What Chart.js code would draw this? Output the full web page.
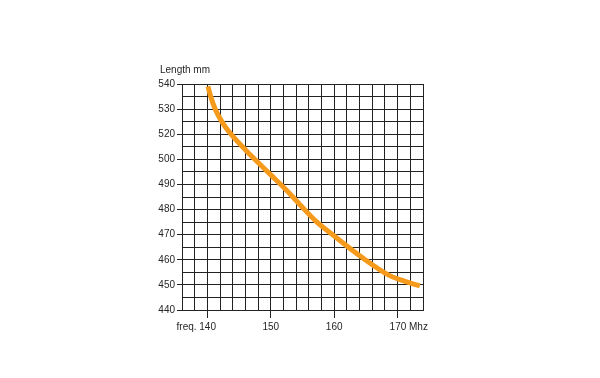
<!DOCTYPE html>
<html>
<head>
<meta charset="utf-8">
<script src="https://cdn.jsdelivr.net/npm/chart.js@4/dist/chart.umd.min.js"></script>
<style>
  html, body { margin: 0; padding: 0; background: #fff; }
  #wrap { width: 600px; height: 378px; position: relative; }
</style>
</head>
<body>
<div id="wrap"><canvas id="c" width="600" height="378"></canvas></div>
<script>
// Data
const freq   = [140.1, 140.5, 141.3, 142.5, 144.1, 146.8, 150.0, 152.4, 154.8, 157.1, 160.0, 164.3, 168.6, 170.6, 173.5];
const length = [529.1, 525.2, 519.6, 514.1, 508.9, 501.7, 493.8, 487.9, 481.4, 475.4, 469.5, 461.1, 453.9, 451.9, 449.6];
const yTickLabels = ["540", "530", "520", "500", "490", "480", "470", "460", "450", "440"];
const xTickValues = [140, 150, 160, 170];
const xTickLabels = ["freq. 140", "150", "160", "170 Mhz"];
const xNumbers    = ["140", "150", "160", "170"];
const axisTitle = "Length mm";

const FONT = "'Liberation Sans', Arial, sans-serif";
const FSIZE = 10;
const TEXT = '#262626';
const GRID = '#222';

const mctx = document.createElement('canvas').getContext('2d');
mctx.font = FSIZE + 'px ' + FONT;
function padded(label, num) {
  // keep the number centred on its tick by balancing the affix with spaces
  const i = label.indexOf(num);
  const pre = label.slice(0, i), post = label.slice(i + num.length);
  const sw = mctx.measureText(' ').width;
  const diff = mctx.measureText(pre).width - mctx.measureText(post).width;
  const n = Math.round(Math.abs(diff) / sw);
  return diff > 0 ? label + ' '.repeat(n) : ' '.repeat(n) + label;
}

const titlePlugin = {
  id: 'axisTitle',
  afterDraw(chart) {
    const ctx = chart.ctx;
    ctx.save();
    ctx.font = FSIZE + 'px ' + FONT;
    ctx.fillStyle = TEXT;
    ctx.textAlign = 'left';
    ctx.textBaseline = 'middle';
    ctx.fillText(axisTitle, 160, 70);
    ctx.restore();
  }
};

new Chart(document.getElementById('c'), {
  type: 'line',
  data: {
    datasets: [{
      data: freq.map((f, i) => ({ x: f, y: length[i] })),
      borderColor: '#F59A1B',
      borderWidth: 5,
      borderCapStyle: 'butt',
      cubicInterpolationMode: 'monotone',
      pointRadius: 0,
      fill: false
    }]
  },
  options: {
    responsive: false,
    animation: false,
    devicePixelRatio: 1,
    layout: { padding: { top: 84, right: 177, left: 0, bottom: 0 } },
    plugins: { legend: { display: false }, tooltip: { enabled: false } },
    scales: {
      x: {
        type: 'linear',
        min: 136, max: 174,
        afterFit(s) { s.height = 68; },
        grid: {
          color: GRID, lineWidth: 1, drawTicks: true, tickLength: 8,
          tickColor: (c) => (xTickValues.includes(c.tick.value) ? GRID : 'rgba(0,0,0,0)')
        },
        border: { color: GRID, width: 1 },
        ticks: {
          stepSize: 2, autoSkip: false, maxRotation: 0, padding: 3,
          color: TEXT, font: { family: FONT, size: FSIZE },
          callback: (v) => {
            const i = xTickValues.indexOf(v);
            return i < 0 ? '' : padded(xTickLabels[i], xNumbers[i]);
          }
        }
      },
      y: {
        type: 'linear',
        min: 440, max: 530,
        afterFit(s) { s.width = 182; },
        grid: {
          color: GRID, lineWidth: 1, drawTicks: true, tickLength: 5,
          tickColor: (c) => (c.tick.value % 10 === 0 ? GRID : 'rgba(0,0,0,0)')
        },
        border: { color: GRID, width: 1 },
        ticks: {
          stepSize: 5, autoSkip: false, padding: 2,
          color: TEXT, font: { family: FONT, size: FSIZE },
          callback: (v) => (v % 10 === 0 ? yTickLabels[(530 - v) / 10] : '')
        }
      }
    }
  },
  plugins: [titlePlugin]
});
</script>
</body>
</html>
